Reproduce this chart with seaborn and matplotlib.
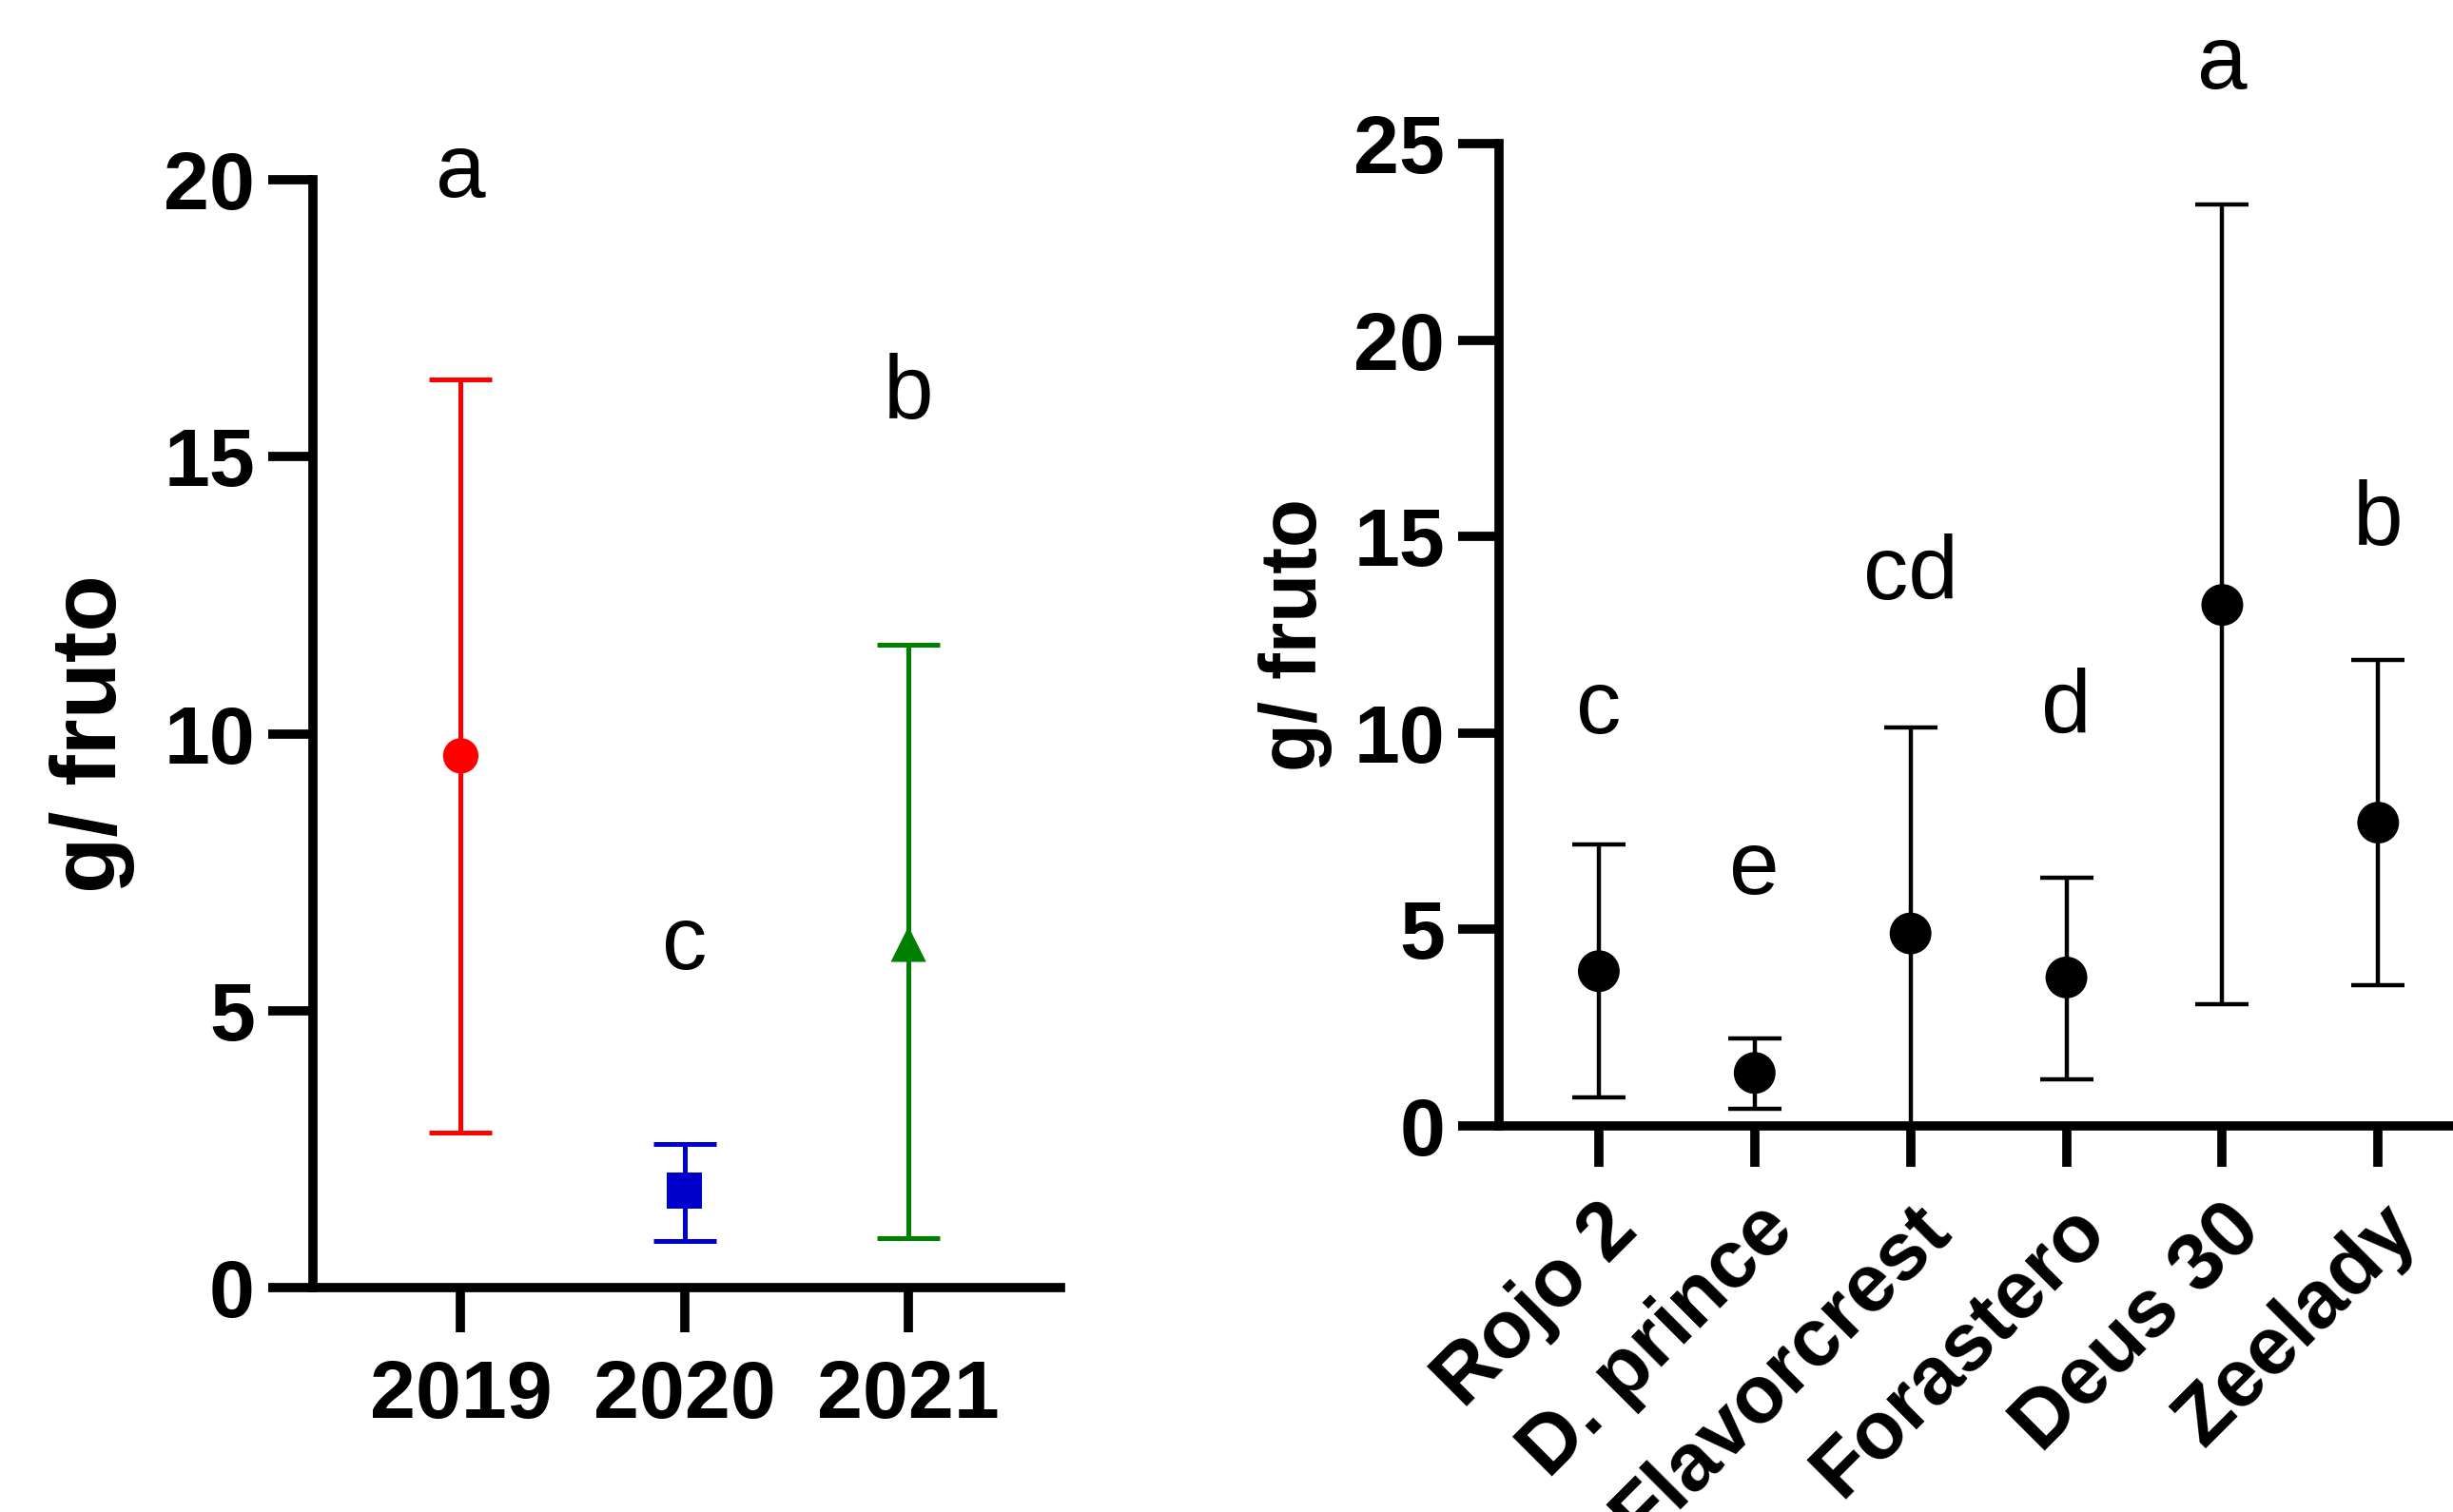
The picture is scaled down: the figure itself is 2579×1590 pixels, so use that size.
import numpy as np
import pandas as pd
import seaborn as sns
import matplotlib.pyplot as plt

# left panel: yearly means with error bars
years = ['2019', '2020', '2021']
year_mean = [9.6, 1.75, 6.2]
year_low = [2.8, 0.85, 0.9]
year_high = [16.4, 2.6, 11.6]
year_letters = ['a', 'c', 'b']
year_letter_y = [19.7, 5.75, 15.7]
year_colors = ['#FF0000', '#0000CC', '#008000']
year_markers = ['o', 's', '^']

# right panel: cultivars
cultivars = ['Rojo 2', 'D. prince', 'Flavorcrest', 'Forastero', 'Deus 30', 'Zeelady']
cult_mean = [3.94, 1.35, 4.9, 3.78, 13.26, 7.72]
cult_low = [0.72, 0.44, 0.0, 1.19, 3.1, 3.58]
cult_high = [7.17, 2.23, 10.15, 6.33, 23.45, 11.86]
cult_letters = ['c', 'e', 'cd', 'd', 'a', 'b']
cult_letter_y = [10.0, 5.9, 13.4, 10.0, 26.4, 14.8]

sns.set_style('white')
plt.rcParams['font.family'] = ['Liberation Sans', 'DejaVu Sans']
plt.rcParams['text.color'] = 'black'
plt.rcParams['axes.labelcolor'] = 'black'
plt.rcParams['xtick.color'] = 'black'
plt.rcParams['ytick.color'] = 'black'

fig = plt.figure(figsize=(25.79, 15.90), dpi=100)
ax1 = fig.add_axes([0.1276, 0.1484, 0.3048, 0.7327])
ax2 = fig.add_axes([0.6111, 0.2553, 0.3889, 0.6497])

# ---- left
df1 = pd.DataFrame({'year': years, 'mean': year_mean})
for i, yr in enumerate(years):
    ax1.errorbar([yr], [year_mean[i]],
                 yerr=[[year_mean[i] - year_low[i]], [year_high[i] - year_mean[i]]],
                 fmt='none', ecolor=year_colors[i], elinewidth=3.6,
                 capsize=24, capthick=3.6, zorder=2)
sns.scatterplot(data=df1, x='year', y='mean', hue='year', style='year',
                palette=dict(zip(years, year_colors)),
                markers=dict(zip(years, year_markers)),
                s=720, edgecolor='none', legend=False, ax=ax1, zorder=3)
for i, yr in enumerate(years):
    ax1.text(i, year_letter_y[i], year_letters[i], ha='center', va='baseline',
             fontsize=68, color='black', clip_on=False)

ax1.set_xlim(-0.66, 2.68)
ax1.set_ylim(0, 20)
ax1.set_yticks([0, 5, 10, 15, 20])
ax1.set_xlabel('')
ax1.set_ylabel('g/ fruto', fontsize=70, fontweight='bold', labelpad=22,
               color='black')

# ---- right
df2 = pd.DataFrame({'cultivar': cultivars, 'mean': cult_mean})
ax2.errorbar(cultivars, cult_mean,
             yerr=[np.array(cult_mean) - np.array(cult_low),
                   np.array(cult_high) - np.array(cult_mean)],
             fmt='none', ecolor='black', elinewidth=3.2,
             capsize=20, capthick=3.2, zorder=2)
sns.scatterplot(data=df2, x='cultivar', y='mean', color='black', s=1000,
                edgecolor='none', legend=False, ax=ax2, zorder=3)
for i in range(len(cultivars)):
    ax2.text(i, cult_letter_y[i], cult_letters[i], ha='center', va='baseline',
             fontsize=68, color='black', clip_on=False)

ax2.set_xlim(-0.64, 5.48)
ax2.set_ylim(0, 25)
ax2.set_yticks([0, 5, 10, 15, 20, 25])
ax2.set_xlabel('')
ax2.set_ylabel('g/ fruto', fontsize=60, fontweight='bold', labelpad=16,
               color='black')
ax2.set_xticks(range(len(cultivars)))
ax2.set_xticklabels(cultivars, rotation=45, ha='right', rotation_mode='anchor')

for ax in (ax1, ax2):
    for side in ('top', 'right'):
        ax.spines[side].set_visible(False)
    for side in ('left', 'bottom'):
        ax.spines[side].set_linewidth(7)
        ax.spines[side].set_color('black')
    ax.tick_params(axis='both', which='major', length=34, width=7,
                   direction='out', color='black', labelcolor='black',
                   labelsize=62, left=True, bottom=True)
    for lab in ax.get_xticklabels() + ax.get_yticklabels():
        lab.set_fontweight('bold')

ax1.tick_params(axis='y', pad=10)
ax1.tick_params(axis='x', pad=20)
ax2.tick_params(axis='y', pad=10, length=31)
ax2.tick_params(axis='x', pad=18, length=31)

fig.savefig('out.png', dpi=100)
